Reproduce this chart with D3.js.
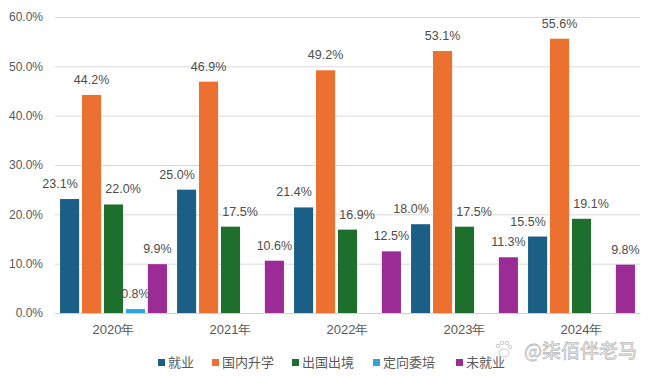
<!DOCTYPE html>
<html>
<head>
<meta charset="utf-8">
<script src="https://cdn.jsdelivr.net/npm/d3@7"></script>
<style>
  body { margin: 0; background: #fff; }
  svg { display: block; font-family: "Liberation Sans", "Noto Sans CJK SC", sans-serif; }
</style>
</head>
<body>
<div id="chart"></div>
<script>
const years = ["2020年", "2021年", "2022年", "2023年", "2024年"];
const seriesNames = ["就业", "国内升学", "出国出境", "定向委培", "未就业"];
const employed = [23.1, 25.0, 21.4, 18.0, 15.5];
const domesticStudy = [44.2, 46.9, 49.2, 53.1, 55.6];
const abroad = [22.0, 17.5, 16.9, 17.5, 19.1];
const directed = [0.8, null, null, null, null];
const unemployed = [9.9, 10.6, 12.5, 11.3, 9.8];
const yTicks = [0, 10, 20, 30, 40, 50, 60];

const seriesValues = [employed, domesticStudy, abroad, directed, unemployed];
const colors = ["#1b5f86", "#ec7131", "#1e6f2e", "#2ba6dc", "#9c2c95"];

const width = 652, height = 376;
const margin = { top: 17, right: 12, bottom: 63, left: 55 };

const svg = d3.select("#chart").append("svg")
  .attr("width", width)
  .attr("height", height);

const x0 = d3.scaleBand()
  .domain(years)
  .range([margin.left, width - margin.right])
  .padding(0);

const x1 = d3.scaleBand()
  .domain(seriesNames)
  .range([0, x0.bandwidth()])
  .paddingInner(0.13)
  .paddingOuter(0.23);

const y = d3.scaleLinear()
  .domain([0, 60])
  .range([height - margin.bottom, margin.top]);

// gridlines + y labels
const yAxis = svg.append("g")
  .attr("transform", `translate(${margin.left},0)`)
  .call(d3.axisLeft(y).tickValues(yTicks).tickFormat(d => d.toFixed(1) + "%")
    .tickSize(-(width - margin.left - margin.right)).tickPadding(12));
yAxis.select(".domain").remove();
yAxis.selectAll(".tick line").attr("stroke", "#d9d9d9");
yAxis.selectAll(".tick text")
  .attr("fill", "#595959")
  .style("font-size", "12px");

// x labels
const xAxis = svg.append("g")
  .attr("transform", `translate(0,${height - margin.bottom})`)
  .call(d3.axisBottom(x0).tickSize(0).tickPadding(12));
xAxis.select(".domain").attr("stroke", "#d0d0d0");
xAxis.selectAll(".tick text")
  .attr("fill", "#595959")
  .style("font-size", "13px");

// bars
const rows = [];
years.forEach((yr, i) => {
  seriesNames.forEach((s, j) => {
    const v = seriesValues[j][i];
    if (v !== null) rows.push({ year: yr, series: s, idx: j, value: v });
  });
});

svg.append("g").selectAll("rect")
  .data(rows)
  .join("rect")
  .attr("x", d => x0(d.year) + x1(d.series))
  .attr("y", d => y(d.value))
  .attr("width", x1.bandwidth())
  .attr("height", d => y(0) - y(d.value))
  .attr("fill", d => colors[d.idx]);

// value labels (first series anchored at left edge, third at right edge)
const shift = d => d.idx === 0 ? -x1.bandwidth() / 2 : d.idx === 2 ? x1.bandwidth() / 2 : 0;
svg.append("g").selectAll("text")
  .data(rows)
  .join("text")
  .attr("x", d => x0(d.year) + x1(d.series) + x1.bandwidth() / 2 + shift(d))
  .attr("y", d => y(d.value) - 11)
  .attr("text-anchor", "middle")
  .attr("fill", "#4d4d4d")
  .style("font-size", "12.5px")
  .text(d => d.value.toFixed(1) + "%");

// legend
const legendX = [158, 212, 292, 373, 456];
const legend = svg.append("g");
seriesNames.forEach((s, j) => {
  const g = legend.append("g").attr("transform", `translate(${legendX[j]},359)`);
  g.append("rect").attr("width", 7).attr("height", 7).attr("fill", colors[j]);
  g.append("text")
    .attr("x", 10).attr("y", 8)
    .attr("fill", "#595959")
    .style("font-size", "13px")
    .text(s);
});

// watermark
const wm = svg.append("g").attr("fill", "#fff").attr("stroke", "#bdbdbd").attr("stroke-width", 0.8);
wm.append("ellipse").attr("cx", 504).attr("cy", 353).attr("rx", 5).attr("ry", 4);
[[498, 346], [502, 343], [507, 343], [510, 347]].forEach(p =>
  wm.append("circle").attr("cx", p[0]).attr("cy", p[1]).attr("r", 1.8));
wm.append("text")
  .attr("x", 637).attr("y", 358)
  .attr("text-anchor", "end")
  .style("font-size", "19px")
  .style("font-family", "Noto Sans CJK SC")
  .text("@柒佰伴老马");
</script>
</body>
</html>
